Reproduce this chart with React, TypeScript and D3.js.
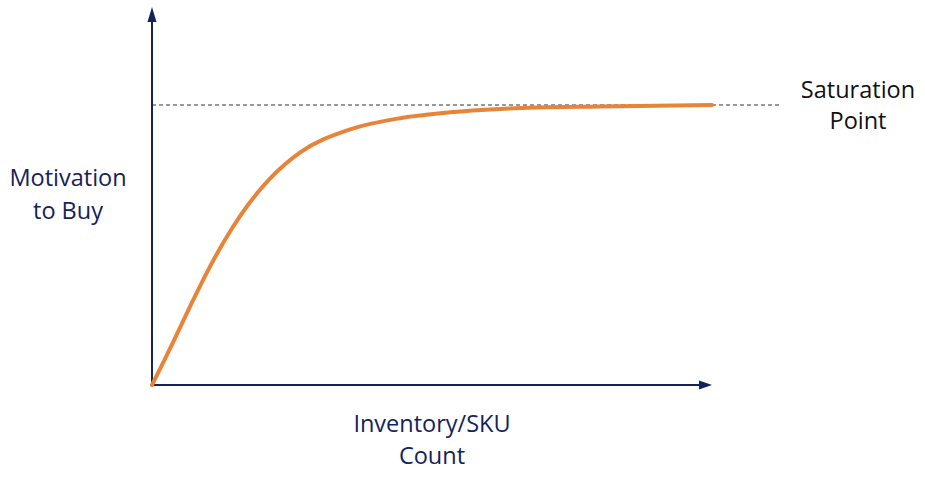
import { useEffect } from 'react';
import * as d3 from 'd3';

// curve (x: inventory, y: motivation, 100 = saturation)
const inventory = [0, 2.3, 4.6, 7.1, 9.5, 11.8, 14.3, 17.1, 21.1, 26.4, 35.4, 44.3, 53.2, 62.1, 80, 100];
const motivation = [0, 9.2, 18.8, 29.3, 39.0, 47.6, 56.0, 64.2, 73.8, 83.0, 91.3, 95.3, 97.4, 98.6, 99.5, 100];

const saturationLevel = 100;
const saturationEnd = 112;
const xAxisMax = 100;
const yAxisMax = 135;

const yLabel = ['Motivation', 'to Buy'];
const xLabel = ['Inventory/SKU', 'Count'];
const satLabel = ['Saturation', 'Point'];

const App = () => {
  const width = 925;
  const height = 481;
  const navy = '#14235a';
  const orange = '#e8833a';
  const font = '"Open Sans", Lato, sans-serif';

  useEffect(() => {
    document.body.style.margin = '0';
  }, []);

  const x = d3.scaleLinear().domain([0, 100]).range([152, 712]);
  const y = d3.scaleLinear().domain([0, 100]).range([385, 105]);

  const pts: [number, number][] = inventory.map((v, i) => [v, motivation[i]]);
  const line = d3.line<[number, number]>()
    .x(d => x(d[0]))
    .y(d => y(d[1]))
    .curve(d3.curveMonotoneX);

  const x0 = x(0);
  const y0 = y(0);
  const xTip = x(xAxisMax);
  const yTip = y(yAxisMax);

  return (
    <svg width={width} height={height} style={{ display: 'block', background: '#fff' }}>
      {/* saturation dashed line */}
      <line x1={x0} x2={x(saturationEnd)} y1={y(saturationLevel)} y2={y(saturationLevel)}
        stroke="#333" strokeWidth={1} strokeDasharray="4,3" />

      {/* axes */}
      <line x1={x0} x2={x0} y1={y0} y2={yTip + 12} stroke={navy} strokeWidth={2} />
      <path d={`M${x0},${yTip} L${x0 - 4.5},${yTip + 15} L${x0 + 4.5},${yTip + 15} Z`} fill={navy} />
      <line x1={x0} x2={xTip - 10} y1={y0} y2={y0} stroke={navy} strokeWidth={2} />
      <path d={`M${xTip},${y0} L${xTip - 13},${y0 - 4.5} L${xTip - 13},${y0 + 4.5} Z`} fill={navy} />

      {/* curve */}
      <path d={line(pts) ?? ''} fill="none" stroke={orange} strokeWidth={4} strokeLinecap="round" />

      {/* labels */}
      <g fill={navy} fontFamily={font} fontSize={23.5} textAnchor="middle">
        {yLabel.map((t, i) => (
          <text key={t} x={68} y={186 + i * 33}>{t}</text>
        ))}
        {xLabel.map((t, i) => (
          <text key={t} x={432} y={432 + i * 32}>{t}</text>
        ))}
        {satLabel.map((t, i) => (
          <text key={t} x={858} y={98 + i * 31} fill="#111">{t}</text>
        ))}
      </g>
    </svg>
  );
};

export default App;
